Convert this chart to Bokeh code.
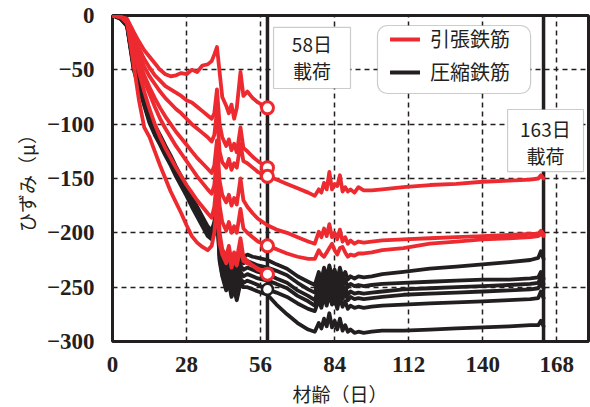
from bokeh.plotting import figure
from bokeh.layouts import column
from bokeh.models import (Range1d, FixedTicker, Span, BoxAnnotation, Label,
                          Legend, LegendItem, Div)
from bokeh.embed import file_html
from bokeh.resources import INLINE

RED = "#ed2a30"
INK = "#231f20"
JP = "Noto Sans CJK JP"
SERIF = "Liberation Serif"

# Sampling days: up to loading (58 d) and after loading (to 163 d)
early_days = [0, 3, 5.5, 8, 10, 12, 14, 16, 18, 20, 22, 24, 26, 28, 30, 32, 34, 36,
              37.5, 38.5, 39.5, 40.5, 41.5, 43, 44, 45, 46, 47, 48.4, 49.5, 51, 53, 55, 58.6]
late_days = [58.6, 62, 66, 70, 74, 76.5, 78, 79, 80, 81, 82, 83, 84, 85, 86, 87, 88, 89, 90,
             91.5, 93, 95, 98, 102, 110, 120, 130, 140, 150, 158, 161, 162, 163]

# Tension rebar strain (μ) up to loading
tension_1 = [0, -1, -3, -15, -24, -32, -38, -44, -50, -54, -56, -55, -53, -54, -50, -52, -46, -45,
             -42, -36, -29, -52, -75, -83, -90, -82, -95, -85, -52, -74, -70, -76, -80, -85]
tension_2 = [0, -1, -4, -20, -30, -40, -48, -55, -60, -65, -68, -71, -74, -78, -80, -84, -88, -92,
             -95, -90, -68, -100, -112, -120, -114, -124, -118, -126, -103, -122, -125, -130, -134, -140]
tension_3 = [0, -1, -5, -24, -36, -47, -56, -63, -70, -76, -81, -86, -90, -95, -100, -104, -108, -112,
             -116, -110, -88, -125, -135, -140, -132, -142, -136, -140, -118, -134, -136, -140, -144, -148]
tension_4 = [0, -1, -6, -28, -42, -55, -66, -76, -85, -93, -100, -107, -113, -119, -125, -131, -136, -141,
             -145, -138, -115, -152, -165, -172, -165, -175, -168, -174, -150, -170, -176, -182, -187, -193]
tension_5 = [0, -1, -6, -30, -46, -60, -72, -84, -95, -104, -112, -120, -127, -134, -141, -148, -154, -160,
             -164, -156, -130, -175, -190, -198, -190, -200, -194, -200, -178, -196, -200, -204, -208, -212]
tension_6 = [0, -1, -7, -33, -52, -70, -86, -100, -112, -122, -131, -140, -148, -156, -163, -170, -176, -182,
             -186, -176, -150, -200, -215, -222, -212, -226, -218, -224, -205, -222, -226, -230, -234, -238]
tension_7 = [0, -1, -6, -45, -78, -103, -112, -125, -138, -150, -162, -172, -182, -193, -203, -209, -213, -216,
             -212, -200, -172, -210, -220, -228, -218, -232, -224, -230, -214, -226, -228, -230, -233, -236]

# Tension rebar strain after loading
tension_3_after = [-148, -151, -155, -159, -163, -166, -160, -163, -154, -160, -144, -160, -155, -157, -147,
                   -162, -158, -162, -160, -163, -158, -161, -161, -160, -158, -156, -155, -153, -152,
                   -151, -150, -147, -150]
tension_4_after = [-193, -197, -200, -204, -208, -210, -199, -204, -196, -203, -192, -204, -200, -206, -197,
                   -208, -204, -210, -207, -210, -208, -209, -208, -207, -206, -205, -204, -203, -202,
                   -201, -201, -198, -201]
tension_5_after = [-212, -215, -219, -222, -224, -224, -216, -220, -222, -218, -214, -210, -216, -220, -214,
                   -213, -218, -222, -220, -221, -219, -219, -218, -216, -214, -210, -208, -206, -205,
                   -204, -203, -201, -203]

# Compression rebar strain (μ) up to loading
compression_1 = [0, -2, -7, -41, -58, -74, -90, -101, -110, -120, -129, -139, -148, -157, -167, -176, -185, -194,
                 -198, -190, -170, -205, -218, -228, -222, -232, -226, -236, -218, -222, -220, -222, -223, -225]
compression_2 = [0, -2, -8, -43, -60, -76, -92, -103, -112, -122, -131, -141, -150, -159, -169, -178, -187, -196,
                 -200, -193, -173, -210, -224, -234, -228, -240, -233, -244, -224, -228, -226, -228, -230, -232]
compression_3 = [0, -2, -8, -45, -62, -78, -94, -105, -114, -124, -133, -143, -152, -161, -171, -180, -189, -198,
                 -202, -196, -175, -215, -230, -240, -234, -246, -239, -250, -230, -234, -232, -234, -236, -238]
compression_4 = [0, -2, -9, -47, -64, -80, -96, -107, -116, -126, -135, -145, -154, -163, -173, -182, -191, -200,
                 -204, -198, -177, -220, -234, -246, -240, -252, -245, -256, -236, -240, -238, -240, -242, -244]
compression_5 = [0, -3, -9, -48, -65, -81, -97, -108, -117, -127, -136, -146, -155, -164, -174, -183, -192, -201,
                 -205, -200, -178, -224, -238, -250, -244, -257, -250, -260, -242, -246, -244, -246, -248, -252]
compression_6 = [0, -3, -10, -50, -67, -83, -99, -110, -119, -129, -138, -148, -157, -166, -176, -185, -194, -203,
                 -206, -201, -180, -226, -240, -253, -246, -259, -252, -262, -246, -250, -250, -252, -254, -257]

# Compression rebar strain after loading
compression_1_after = [-225, -229, -233, -240, -245, -248, -236, -244, -232, -242, -230, -240, -234, -244, -232,
                       -242, -236, -243, -240, -242, -240, -241, -240, -238, -236, -233, -231, -229, -227,
                       -225, -223, -217, -224]
compression_2_after = [-232, -235, -239, -246, -252, -255, -243, -251, -239, -249, -237, -247, -241, -251, -239,
                       -249, -243, -250, -247, -249, -248, -249, -248, -247, -246, -245, -244, -243, -243,
                       -242, -241, -236, -242]
compression_3_after = [-238, -242, -246, -253, -258, -262, -250, -258, -246, -256, -244, -254, -248, -258, -246,
                       -256, -250, -257, -254, -256, -255, -256, -255, -254, -252, -251, -250, -249, -248,
                       -247, -246, -241, -247]
compression_4_after = [-244, -247, -251, -258, -263, -267, -255, -263, -251, -261, -249, -259, -253, -263, -251,
                       -261, -255, -262, -259, -261, -260, -261, -260, -259, -257, -256, -255, -254, -253,
                       -252, -251, -246, -251]
compression_5_after = [-252, -255, -259, -265, -270, -272, -262, -269, -258, -267, -256, -266, -260, -270, -259,
                       -268, -263, -270, -267, -269, -268, -269, -268, -267, -266, -265, -264, -263, -262,
                       -261, -260, -254, -260]
compression_6_after = [-257, -266, -275, -283, -289, -291, -283, -288, -279, -286, -274, -287, -281, -289, -279,
                       -290, -285, -291, -289, -292, -291, -292, -291, -290, -290, -289, -288, -287, -286,
                       -285, -285, -281, -286]

x_ticks = [0, 28, 56, 84, 112, 140, 168]
y_ticks = [0, -50, -100, -150, -200, -250, -300]
load_days = [58.6, 163]

tension_runs = [(tension_1, None), (tension_2, None), (tension_3, tension_3_after),
                (tension_4, tension_4_after), (tension_5, tension_5_after),
                (tension_6, None), (tension_7, None)]
compression_runs = [(compression_1, compression_1_after), (compression_2, compression_2_after),
                    (compression_3, compression_3_after), (compression_4, compression_4_after),
                    (compression_5, compression_5_after), (compression_6, compression_6_after)]
# gauges marked with a circle at the loading age
tension_marked = [tension_1, tension_2, tension_3, tension_5, tension_6]
compression_marked = [compression_5]


def join(early, after):
    if after is None:
        return list(early_days), list(early)
    return early_days + late_days[1:], early + after[1:]


p = figure(width=590, height=381, x_range=Range1d(0, 180), y_range=Range1d(-300, 0),
           output_backend="svg", toolbar_location=None,
           min_border_left=112, min_border_right=2, min_border_top=15, min_border_bottom=40)
p.background_fill_color = "white"
p.border_fill_color = "white"
p.outline_line_color = INK
p.outline_line_width = 3
p.outline_line_alpha = 1

p.xaxis.ticker = FixedTicker(ticks=x_ticks)
p.yaxis.ticker = FixedTicker(ticks=y_ticks)
for ax in p.axis:
    ax.axis_line_color = None
    ax.major_tick_line_color = None
    ax.minor_tick_line_color = None
    ax.major_label_text_font = SERIF
    ax.major_label_text_font_style = "bold"
    ax.major_label_text_font_size = "23px"
    ax.major_label_text_color = INK
p.xaxis.major_label_standoff = 9
p.yaxis.major_label_standoff = 12
p.yaxis.axis_label = "ひずみ（μ）"
p.yaxis.axis_label_text_font = JP
p.yaxis.axis_label_text_font_style = "normal"
p.yaxis.axis_label_text_font_size = "19px"
p.yaxis.axis_label_text_color = INK
p.yaxis.axis_label_standoff = 4

p.xgrid.ticker = FixedTicker(ticks=x_ticks)
p.ygrid.ticker = FixedTicker(ticks=y_ticks)
p.grid.grid_line_color = INK
p.grid.grid_line_width = 1.5
p.grid.grid_line_dash = "5 4"

for d in load_days:
    p.add_layout(Span(location=d, dimension="height", line_color=INK, line_width=3.5,
                      level="underlay"))

cx, cy = [], []
for early, after in compression_runs:
    xs, ys = join(early, after)
    cx.append(xs)
    cy.append(ys)
black_r = p.multi_line(xs=cx, ys=cy, line_color=INK, line_width=3.8,
                       line_join="round", line_cap="round")

tx, ty = [], []
for early, after in tension_runs:
    xs, ys = join(early, after)
    tx.append(xs)
    ty.append(ys)
red_r = p.multi_line(xs=tx, ys=ty, line_color=RED, line_width=3.8,
                     line_join="round", line_cap="round")

p.scatter(x=[early_days[-1]] * len(compression_marked), y=[s[-1] for s in compression_marked],
          size=11, line_color=INK, line_width=2.5, fill_color="white")
p.scatter(x=[early_days[-1]] * len(tension_marked), y=[s[-1] for s in tension_marked],
          size=12, line_color=RED, line_width=3, fill_color="white")

# loading notes
p.add_layout(BoxAnnotation(left=60.9, right=90.0, top=-11.0, bottom=-67.2,
                           fill_color="white", fill_alpha=1, line_color="#555555", line_width=1.2))
p.add_layout(BoxAnnotation(left=149.4, right=178.1, top=-86.5, bottom=-143.6,
                           fill_color="white", fill_alpha=1, line_color="#555555", line_width=1.2))
for x, y, t in [(75.4, -26.0, "58日"), (75.4, -51.0, "載荷"),
                (163.7, -104.0, "163日"), (163.7, -128.5, "載荷")]:
    p.add_layout(Label(x=x, y=y, text=t, text_align="center", text_baseline="middle",
                       text_font=JP, text_font_size="19px", text_color=INK))

# legend
p.add_layout(BoxAnnotation(left=100.2, right=158.1, top=-9.2, bottom=-71.8,
                           fill_color="white", fill_alpha=1, line_color="#555555",
                           line_width=1.2, border_radius=10))
legend = Legend(items=[LegendItem(label="引張鉄筋", renderers=[red_r]),
                       LegendItem(label="圧縮鉄筋", renderers=[black_r])],
                location=(278, 255), border_line_color=None, background_fill_alpha=0,
                padding=0, margin=0, spacing=4, glyph_width=30, glyph_height=26,
                label_height=26, label_standoff=10, label_text_font=JP,
                label_text_font_size="20px", label_text_color=INK)
p.add_layout(legend)

# x-axis title under the tick labels
x_title = Div(text="材齢（日）", width=456, height=26, margin=(0, 0, 0, 112),
              styles={"font-family": "'Noto Sans CJK JP', sans-serif", "font-size": "19px",
                      "color": INK, "text-align": "center", "line-height": "26px",
                      "width": "456px"})

layout = column(p, x_title, spacing=0)
open("out.html", "w").write(file_html(layout, INLINE))
